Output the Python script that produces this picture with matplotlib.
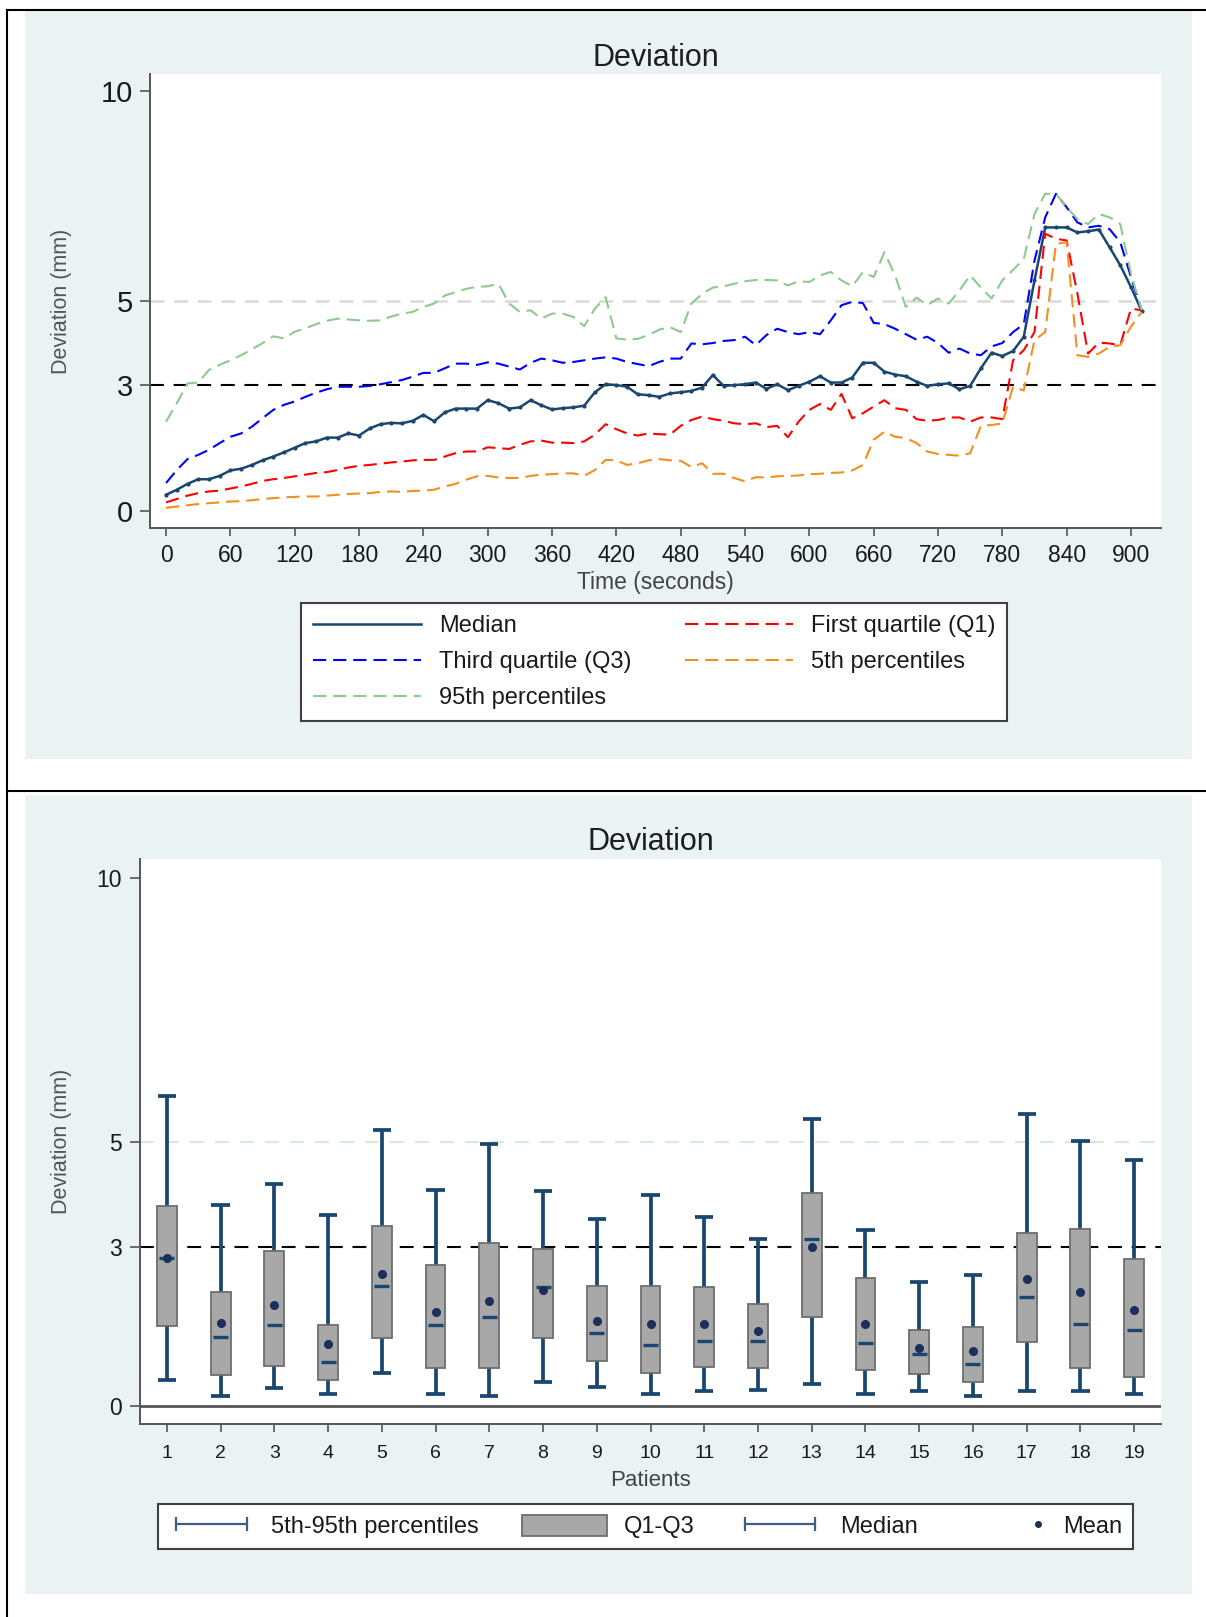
import numpy as np
import matplotlib
matplotlib.use('Agg')
import matplotlib.pyplot as plt
from matplotlib.lines import Line2D
from matplotlib.patches import Patch, Rectangle
from matplotlib.legend_handler import HandlerLine2D

plt.rcParams['font.family'] = ['Liberation Sans', 'DejaVu Sans']
plt.rcParams['lines.scale_dashes'] = False

# ---- top chart: deviation over time (one value every 10 s) ----
time_s = np.arange(0, 911, 10)

median = [0.39, 0.51, 0.65, 0.76, 0.76, 0.84, 0.97, 1.01, 1.10, 1.21,
          1.30, 1.40, 1.51, 1.62, 1.66, 1.75, 1.75, 1.85, 1.80, 1.97,
          2.07, 2.10, 2.09, 2.15, 2.29, 2.14, 2.35, 2.44, 2.44, 2.44,
          2.64, 2.57, 2.44, 2.47, 2.64, 2.52, 2.42, 2.45, 2.47, 2.51,
          2.83, 3.02, 3.00, 2.96, 2.78, 2.76, 2.72, 2.80, 2.83, 2.86,
          2.94, 3.24, 2.98, 3.00, 3.02, 3.06, 2.91, 3.02, 2.88, 2.98,
          3.08, 3.21, 3.06, 3.06, 3.18, 3.53, 3.53, 3.32, 3.25, 3.21,
          3.08, 2.98, 3.02, 3.04, 2.90, 2.98, 3.40, 3.77, 3.69, 3.81,
          4.15, 5.49, 6.75, 6.75, 6.75, 6.63, 6.66, 6.70, 6.28, 5.85,
          5.33, 4.76]

q1 = [0.21, 0.29, 0.37, 0.43, 0.47, 0.49, 0.54, 0.59, 0.65, 0.72,
      0.76, 0.79, 0.83, 0.87, 0.91, 0.93, 0.98, 1.04, 1.08, 1.10,
      1.13, 1.16, 1.18, 1.21, 1.22, 1.22, 1.30, 1.38, 1.42, 1.42,
      1.52, 1.50, 1.48, 1.58, 1.66, 1.68, 1.63, 1.63, 1.62, 1.66,
      1.82, 2.07, 1.95, 1.85, 1.80, 1.85, 1.83, 1.82, 2.03, 2.17,
      2.25, 2.19, 2.15, 2.09, 2.07, 2.09, 2.00, 2.03, 1.76, 2.13,
      2.41, 2.55, 2.41, 2.79, 2.21, 2.33, 2.49, 2.64, 2.45, 2.41,
      2.19, 2.15, 2.17, 2.23, 2.23, 2.13, 2.23, 2.23, 2.19, 3.59,
      3.83, 4.26, 6.60, 6.48, 6.44, 5.18, 3.75, 4.01, 3.99, 3.95,
      4.82, 4.78]

q3 = [0.67, 0.98, 1.24, 1.34, 1.46, 1.62, 1.77, 1.85, 2.01, 2.21,
      2.41, 2.53, 2.61, 2.72, 2.82, 2.90, 2.96, 2.96, 2.96, 2.98,
      3.02, 3.07, 3.12, 3.20, 3.29, 3.29, 3.40, 3.51, 3.51, 3.48,
      3.54, 3.51, 3.44, 3.37, 3.53, 3.63, 3.59, 3.53, 3.55, 3.59,
      3.63, 3.66, 3.63, 3.55, 3.50, 3.45, 3.55, 3.63, 3.63, 3.99,
      3.97, 4.00, 4.05, 4.07, 4.15, 3.95, 4.19, 4.34, 4.26, 4.21,
      4.26, 4.21, 4.54, 4.90, 4.98, 4.95, 4.48, 4.45, 4.34, 4.21,
      4.08, 4.15, 4.00, 3.77, 3.87, 3.75, 3.71, 3.92, 4.00, 4.26,
      4.45, 5.96, 6.99, 7.55, 7.23, 6.87, 6.75, 6.79, 6.71, 6.40,
      5.57, 4.78]

p5 = [0.08, 0.11, 0.14, 0.17, 0.19, 0.21, 0.23, 0.24, 0.26, 0.29,
      0.31, 0.33, 0.34, 0.35, 0.35, 0.37, 0.39, 0.41, 0.42, 0.43,
      0.46, 0.47, 0.46, 0.48, 0.49, 0.51, 0.59, 0.65, 0.75, 0.83,
      0.84, 0.80, 0.79, 0.79, 0.84, 0.87, 0.88, 0.90, 0.90, 0.84,
      0.98, 1.22, 1.21, 1.10, 1.14, 1.21, 1.24, 1.21, 1.20, 1.05,
      1.14, 0.89, 0.89, 0.79, 0.71, 0.81, 0.80, 0.83, 0.84, 0.85,
      0.88, 0.89, 0.91, 0.92, 0.97, 1.10, 1.70, 1.89, 1.77, 1.74,
      1.62, 1.42, 1.36, 1.34, 1.32, 1.38, 2.03, 2.05, 2.09, 2.96,
      2.87, 4.07, 4.26, 6.36, 6.40, 3.71, 3.67, 3.75, 3.91, 3.95,
      4.39, 4.74]

p95 = [2.13, 2.57, 3.04, 3.06, 3.36, 3.48, 3.59, 3.71, 3.85, 4.00,
       4.16, 4.11, 4.27, 4.35, 4.45, 4.53, 4.58, 4.56, 4.54, 4.53,
       4.54, 4.63, 4.70, 4.74, 4.86, 4.94, 5.13, 5.21, 5.29, 5.34,
       5.35, 5.41, 4.94, 4.74, 4.78, 4.58, 4.70, 4.70, 4.62, 4.40,
       4.82, 5.09, 4.11, 4.08, 4.10, 4.19, 4.32, 4.38, 4.26, 4.94,
       5.17, 5.32, 5.35, 5.41, 5.47, 5.50, 5.50, 5.49, 5.37, 5.47,
       5.45, 5.61, 5.69, 5.49, 5.35, 5.69, 5.57, 6.16, 5.61, 4.86,
       5.08, 4.90, 5.06, 4.94, 5.25, 5.61, 5.32, 5.06, 5.49, 5.74,
       6.00, 7.07, 7.55, 7.55, 7.23, 6.95, 6.83, 7.07, 6.99, 6.83,
       5.65, 4.78]

# ---- bottom chart: per patient summary ----
patients = np.arange(1, 20)
pat_p5 = [0.49, 0.18, 0.33, 0.22, 0.61, 0.22, 0.18, 0.44, 0.36, 0.22,
          0.27, 0.30, 0.40, 0.22, 0.27, 0.18, 0.27, 0.27, 0.22]
pat_q1 = [1.50, 0.58, 0.74, 0.49, 1.28, 0.71, 0.71, 1.28, 0.85, 0.61,
          0.73, 0.71, 1.67, 0.68, 0.59, 0.45, 1.20, 0.71, 0.54]
pat_median = [2.80, 1.29, 1.53, 0.83, 2.26, 1.53, 1.67, 2.25, 1.37, 1.15,
              1.22, 1.22, 3.16, 1.19, 0.97, 0.79, 2.05, 1.55, 1.43]
pat_mean = [2.79, 1.56, 1.91, 1.17, 2.49, 1.78, 1.99, 2.19, 1.60, 1.55,
            1.54, 1.41, 3.01, 1.54, 1.09, 1.04, 2.39, 2.16, 1.81]
pat_q3 = [3.78, 2.16, 2.92, 1.53, 3.41, 2.66, 3.09, 2.96, 2.27, 2.27,
          2.24, 1.92, 4.03, 2.42, 1.43, 1.48, 3.28, 3.35, 2.78]
pat_p95 = [5.87, 3.80, 4.19, 3.61, 5.23, 4.08, 4.95, 4.07, 3.54, 3.99,
           3.58, 3.16, 5.44, 3.33, 2.34, 2.47, 5.52, 5.02, 4.65]

BG = '#eaf2f3'
NAVY = '#1a476f'
W, H = 1206, 1617


def fx(px):
    return px / W


def fy(py):
    return 1 - py / H


class RightDotHandler(HandlerLine2D):
    """Put the single legend marker near the right end of the handle box."""
    def get_xdata(self, legend, xdescent, ydescent, width, height, fontsize):
        pos = -xdescent + width - 0.3 * fontsize
        # one-point handles use the middle of a 3 point line, so centre on pos
        xdata = np.array([pos - 1, pos + 1])
        return xdata, np.array([pos])


def style_axis(ax, ytick_size, xtick_size, xpad, ypad):
    for side in ['top', 'right']:
        ax.spines[side].set_visible(False)
    for side in ['left', 'bottom']:
        ax.spines[side].set_color('#555555')
        ax.spines[side].set_linewidth(1.4)
    ax.tick_params(axis='y', direction='out', length=7, width=1.2,
                   color='#555555', labelsize=ytick_size, pad=ypad, labelcolor='#1a1a1a')
    ax.tick_params(axis='x', direction='out', length=6, width=1.2,
                   color='#555555', labelsize=xtick_size, pad=xpad, labelcolor='#1a1a1a')


fig = plt.figure(figsize=(W / 100, H / 100), dpi=100)

# panel backgrounds and the table frame around them
fig.patches.append(Rectangle((fx(25), fy(759)), fx(1192) - fx(25), (759 - 11) / H,
                             transform=fig.transFigure, facecolor=BG, edgecolor='none', zorder=-1))
fig.patches.append(Rectangle((fx(25), fy(1594)), fx(1192) - fx(25), (1594 - 795) / H,
                             transform=fig.transFigure, facecolor=BG, edgecolor='none', zorder=-1))
fig.add_artist(Line2D([fx(7), 1], [fy(10), fy(10)], color='black', lw=1.5))
fig.add_artist(Line2D([fx(7), 1], [fy(791), fy(791)], color='black', lw=1.5))
fig.add_artist(Line2D([fx(7), fx(7)], [fy(10), 0], color='black', lw=1.5))

# ================= top chart =================
ax1 = fig.add_axes([fx(150), fy(528), (1161 - 150) / W, (528 - 74) / H])
ax1.set_facecolor('white')
ax1.axhline(5, color='#d9d9d9', lw=1.8, dashes=(10, 7), zorder=1)
ax1.axhline(3, color='black', lw=1.5, dashes=(10, 7), zorder=1)

dash = (9.5, 5)
ax1.plot(time_s, median, color=NAVY, lw=1.8, marker='o', ms=2, zorder=3)
ax1.plot(time_s, q1, color='#ff0000', lw=1.5, dashes=dash, label='First quartile (Q1)', zorder=3)
ax1.plot(time_s, q3, color='#0000ff', lw=1.5, dashes=dash, label='Third quartile (Q3)', zorder=3)
ax1.plot(time_s, p5, color='#f0901e', lw=1.5, dashes=dash, label='5th percentiles', zorder=3)
ax1.plot(time_s, p95, color='#8ec98e', lw=1.5, dashes=dash, label='95th percentiles', zorder=3)

ax1.set_xlim(-15, 928)
ax1.set_ylim(-0.4, 10.4)
ax1.set_xticks(np.arange(0, 901, 60))
ax1.set_yticks([0, 3, 5, 10])
style_axis(ax1, ytick_size=21, xtick_size=16.5, xpad=5.4, ypad=5)
ax1.set_title('Deviation', fontsize=22, color='#1e1e1e', pad=6)
ax1.set_xlabel('Time (seconds)', fontsize=16.5, color='#444444')
ax1.set_ylabel('Deviation (mm)', fontsize=15.5, color='#555555')
ax1.xaxis.set_label_coords(0.5, -0.094)
ax1.yaxis.set_label_coords(-0.077, 0.5)

# legend: plain line for the median, dashed for the others
handles, labels = ax1.get_legend_handles_labels()
med_line = Line2D([], [], color=NAVY, lw=1.8)
leg_handles = [med_line, handles[1], handles[3], handles[0], handles[2]]
leg_labels = ['Median', labels[1], labels[3], labels[0], labels[2]]
leg1 = fig.legend(leg_handles, leg_labels,
                  loc='upper left', bbox_to_anchor=(fx(301), fy(603)),
                  bbox_transform=fig.transFigure, borderaxespad=0, ncol=2,
                  fontsize=17, handlelength=4.6, handletextpad=0.75,
                  columnspacing=2.25, labelspacing=0.6, borderpad=0.5,
                  fancybox=False, framealpha=1, edgecolor='#404040')
leg1.get_frame().set_linewidth(1.5)
for txt in leg1.get_texts():
    txt.set_color('#1a1a1a')

# ================= bottom chart =================
ax2 = fig.add_axes([fx(140), fy(1424), (1161 - 140) / W, (1424 - 859) / H])
ax2.set_facecolor('white')
ax2.axhline(5, color='#d3ead3', lw=1.3, dashes=(10, 8), zorder=1)
ax2.axhline(3, color='black', lw=1.5, dashes=(10, 7), zorder=1)
ax2.axhline(0, color='#555555', lw=2, zorder=1)

box_w = 0.37
ax2.vlines(patients, pat_q3, pat_p95, color=NAVY, lw=2.7, zorder=2)
ax2.vlines(patients, pat_p5, pat_q1, color=NAVY, lw=2.7, zorder=2)
ax2.hlines(pat_p95, patients - 0.17, patients + 0.17, color=NAVY, lw=2.7, zorder=2)
ax2.hlines(pat_p5, patients - 0.17, patients + 0.17, color=NAVY, lw=2.7, zorder=2)
ax2.bar(patients, np.array(pat_q3) - np.array(pat_q1), bottom=pat_q1, width=box_w,
        color='#a8a8a8', edgecolor='#6e6e6e', linewidth=1.3, zorder=3)
ax2.hlines(pat_median, patients - 0.14, patients + 0.14, color=NAVY, lw=2.4, zorder=4)
ax2.plot(patients, pat_mean, ls='none', marker='o', ms=5.5, color='#1c2e5a', zorder=5)

ax2.set_xlim(0.5, 19.5)
ax2.set_ylim(-0.35, 10.36)
ax2.set_xticks(patients)
ax2.set_yticks([0, 3, 5, 10])
style_axis(ax2, ytick_size=16.5, xtick_size=14, xpad=9, ypad=6)
ax2.set_title('Deviation', fontsize=22, color='#1e1e1e', pad=6.5)
ax2.set_xlabel('Patients', fontsize=16, color='#444444')
ax2.set_ylabel('Deviation (mm)', fontsize=15.5, color='#555555')
ax2.xaxis.set_label_coords(0.5, -0.081)
ax2.yaxis.set_label_coords(-0.0666, 0.5)

whisk_h = Line2D([], [], color='#3e5f80', lw=1.6, marker='|', ms=10, mew=1.6)
box_h = Patch(facecolor='#a8a8a8', edgecolor='#6e6e6e', linewidth=1.3)
med_h = Line2D([], [], color='#3e5f80', lw=1.6, marker='|', ms=10, mew=1.6)
mean_h = Line2D([], [], ls='none', marker='o', ms=4, color='#1c2e5a')
leg2 = fig.legend([whisk_h, box_h, med_h, mean_h],
                  ['5th-95th percentiles', 'Q1-Q3', 'Median', 'Mean'],
                  handler_map={whisk_h: HandlerLine2D(numpoints=2),
                               med_h: HandlerLine2D(numpoints=2),
                               mean_h: RightDotHandler(numpoints=1)},
                  loc='upper left', bbox_to_anchor=(fx(158), fy(1504)),
                  bbox_transform=fig.transFigure, borderaxespad=0, ncol=4,
                  fontsize=17, handlelength=3.6, handleheight=1.0, handletextpad=0.75,
                  columnspacing=1.8, borderpad=0.45,
                  fancybox=False, framealpha=1, edgecolor='#404040')
leg2.get_frame().set_linewidth(1.5)
for txt in leg2.get_texts():
    txt.set_color('#1a1a1a')

fig.savefig('out.png', dpi=100)
